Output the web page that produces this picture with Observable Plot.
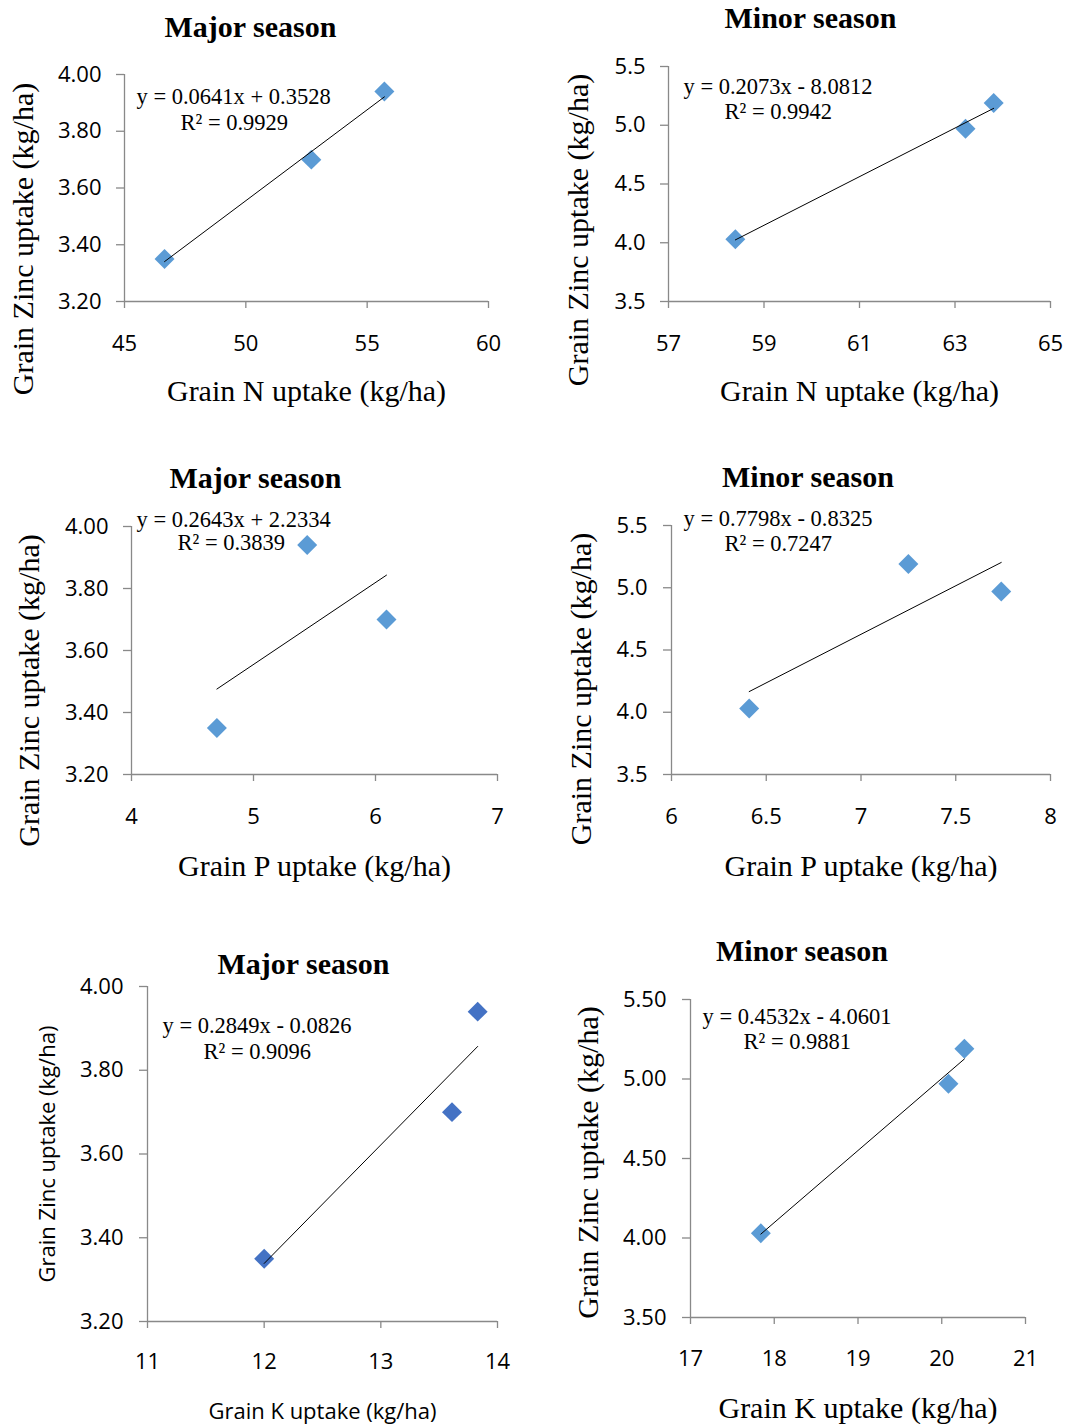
<!DOCTYPE html>
<html>
<head>
<meta charset="utf-8">
<script src="https://cdn.jsdelivr.net/npm/d3@7"></script>
<script src="https://cdn.jsdelivr.net/npm/@observablehq/plot@0.6"></script>
<style>
  html, body { margin: 0; padding: 0; background: #fff; }
  #page { position: relative; width: 1065px; height: 1424px; background: #fff; overflow: hidden; }
  .panel { position: absolute; }
  .panel svg { overflow: visible; display: block; }
</style>
</head>
<body>
<div id="page"></div>
<script>
// ---- Data ----
const zincMajor = [3.35, 3.70, 3.94];
const zincMinor = [4.03, 4.97, 5.19];
const nMajor = [46.65, 52.7, 55.71];
const nMinor = [58.40, 63.22, 63.81];
const pMajor = [4.70, 6.09, 5.44];
const pMinor = [6.41, 7.74, 7.25];
const kMajor = [12.00, 13.61, 13.83];
const kMinor = [17.84, 20.08, 20.27];

const titles = ["Major season", "Minor season", "Major season", "Minor season", "Major season", "Minor season"];
const xLabels = ["Grain N uptake (kg/ha)", "Grain N uptake (kg/ha)", "Grain P uptake (kg/ha)", "Grain P uptake (kg/ha)", "Grain K uptake (kg/ha)", "Grain K uptake (kg/ha)"];
const yLabel = "Grain Zinc uptake (kg/ha)";
const equations = ["y = 0.0641x + 0.3528", "y = 0.2073x - 8.0812", "y = 0.2643x + 2.2334", "y = 0.7798x - 0.8325", "y = 0.2849x - 0.0826", "y = 0.4532x - 4.0601"];
const r2Labels = ["R² = 0.9929", "R² = 0.9942", "R² = 0.3839", "R² = 0.7247", "R² = 0.9096", "R² = 0.9881"];

const xTicks = [[45, 50, 55, 60], [57, 59, 61, 63, 65], [4, 5, 6, 7], [6, 6.5, 7, 7.5, 8], [11, 12, 13, 14], [17, 18, 19, 20, 21]];
const yTicks = [[3.2, 3.4, 3.6, 3.8, 4.0], [3.5, 4.0, 4.5, 5.0, 5.5], [3.2, 3.4, 3.6, 3.8, 4.0], [3.5, 4.0, 4.5, 5.0, 5.5], [3.2, 3.4, 3.6, 3.8, 4.0], [3.5, 4.0, 4.5, 5.0, 5.5]];
const yFormats = [".2f", ".1f", ".2f", ".1f", ".2f", ".2f"];

const xSeries = [nMajor, nMinor, pMajor, pMinor, kMajor, kMinor];
const ySeries = [zincMajor, zincMinor, zincMajor, zincMinor, zincMajor, zincMinor];

// ---- Layout / style ----
const gray = "#898989";
const serif = "'Liberation Serif', 'Times New Roman', serif";
const sans = "'Open Sans', sans-serif";
const layout = [
  {left: 0,   top: 0,   w: 530, h: 420, ml: 124, mr: 42, mt: 74, mb: 119, xPad: 27, yPad: 15, title: [-56, -38], eq: [12, 29], r2: [56, 55], xl: 99,  yl: [-92, 51], color: "#5B9BD5", labelFont: serif, labelSize: 30},
  {left: 530, top: 0,   w: 535, h: 420, ml: 138, mr: 15, mt: 66, mb: 119, xPad: 27, yPad: 15, title: [-49, -39], eq: [15, 27], r2: [56, 52], xl: 99,  yl: [-81, 46], color: "#5B9BD5", labelFont: serif, labelSize: 30},
  {left: 0,   top: 450, w: 530, h: 440, ml: 131, mr: 33, mt: 76, mb: 116, xPad: 27, yPad: 15, title: [-59, -39], eq: [5, 0],   r2: [46, 23], xl: 101, yl: [-93, 40], color: "#5B9BD5", labelFont: serif, labelSize: 30},
  {left: 530, top: 450, w: 535, h: 440, ml: 141, mr: 15, mt: 75, mb: 116, xPad: 27, yPad: 16, title: [-53, -39], eq: [12, 0],  r2: [53, 25], xl: 101, yl: [-81, 39], color: "#5B9BD5", labelFont: serif, labelSize: 30},
  {left: 0,   top: 930, w: 530, h: 494, ml: 147, mr: 33, mt: 56, mb: 103, xPad: 25, yPad: 16, title: [-19, -13], eq: [15, 46], r2: [56, 72], xl: 97,  yl: [-93, 0],  color: "#4472C4", labelFont: sans,  labelSize: 22},
  {left: 530, top: 930, w: 535, h: 494, ml: 160, mr: 40, mt: 69, mb: 107, xPad: 26, yPad: 16, title: [-56, -39], eq: [12, 24], r2: [53, 49], xl: 100, yl: [-93, 4],  color: "#5B9BD5", labelFont: serif, labelSize: 30}
];

const page = document.getElementById("page");

layout.forEach((L, i) => {
  const data = xSeries[i].map((x, j) => ({x, y: ySeries[i][j]}));
  const xt = xTicks[i], yt = yTicks[i];
  const chart = Plot.plot({
    width: L.w,
    height: L.h,
    marginLeft: L.ml, marginRight: L.mr, marginTop: L.mt, marginBottom: L.mb,
    style: {fontFamily: sans, fontSize: "22px", background: "white", color: "black", overflow: "visible"},
    x: {domain: [xt[0], xt[xt.length - 1]]},
    y: {domain: [yt[0], yt[yt.length - 1]]},
    marks: [
      Plot.ruleX([xt[0]], {stroke: gray, strokeWidth: 1.3}),
      Plot.ruleY([yt[0]], {stroke: gray, strokeWidth: 1.3}),
      Plot.axisX({ticks: xt, tickFormat: d => String(d), tickSize: 7, tickPadding: L.xPad, stroke: gray, strokeWidth: 1.3, fill: "black", label: null, fontSize: 22}),
      Plot.axisY({ticks: yt, tickFormat: d3.format(yFormats[i]), tickSize: 8, tickPadding: L.yPad, stroke: gray, strokeWidth: 1.3, fill: "black", label: null, fontSize: 22}),
      Plot.dot(data, {x: "x", y: "y", symbol: "diamond2", r: 9, fill: L.color, stroke: "none"}),
      Plot.linearRegressionY(data, {x: "x", y: "y", stroke: "black", strokeWidth: 1, ci: 0}),
      Plot.text([equations[i]], {text: d => d, frameAnchor: "top-left", textAnchor: "start", lineAnchor: "bottom", dx: L.eq[0], dy: L.eq[1], fontFamily: serif, fontSize: 22.5, fill: "black"}),
      Plot.text([r2Labels[i]], {text: d => d, frameAnchor: "top-left", textAnchor: "start", lineAnchor: "bottom", dx: L.r2[0], dy: L.r2[1], fontFamily: serif, fontSize: 22.5, fill: "black"}),
      Plot.text([titles[i]], {text: d => d, frameAnchor: "top", textAnchor: "middle", lineAnchor: "bottom", dx: L.title[0], dy: L.title[1], fontFamily: serif, fontWeight: "bold", fontSize: 30, fill: "black"}),
      Plot.text([xLabels[i]], {text: d => d, frameAnchor: "bottom", textAnchor: "middle", lineAnchor: "bottom", dy: L.xl, fontFamily: L.labelFont, fontSize: L.labelSize, fill: "black"}),
      Plot.text([yLabel], {text: d => d, frameAnchor: "left", textAnchor: "middle", lineAnchor: "bottom", rotate: -90, dx: L.yl[0], dy: L.yl[1], fontFamily: L.labelFont, fontSize: L.labelSize, fill: "black"})
    ]
  });
  const div = document.createElement("div");
  div.className = "panel";
  div.style.left = L.left + "px";
  div.style.top = L.top + "px";
  div.appendChild(chart);
  page.appendChild(div);
});
</script>
</body>
</html>
